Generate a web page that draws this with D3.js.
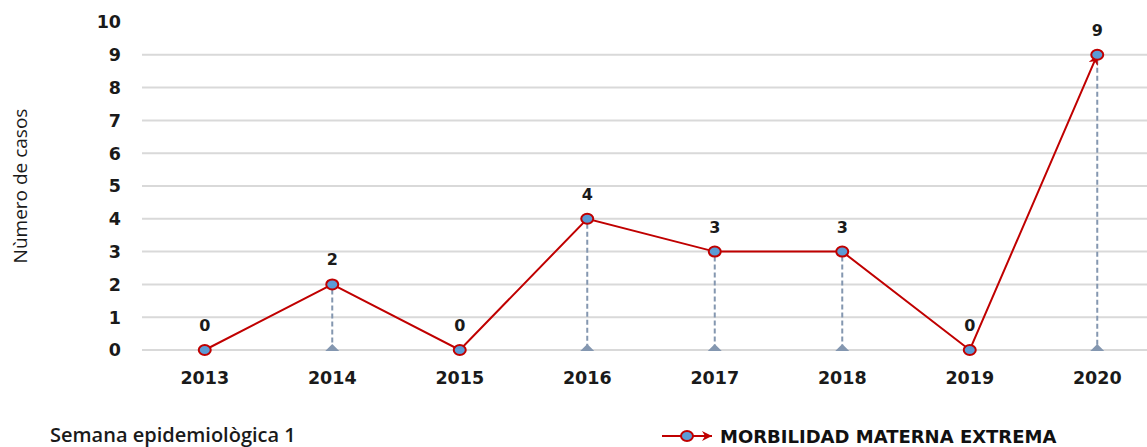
<!DOCTYPE html>
<html>
<head>
<meta charset="utf-8">
<script src="https://cdn.jsdelivr.net/npm/d3@7"></script>
<style>
  body { margin: 0; background: #fff; overflow: hidden; }
  svg { display: block; }
  .tick-lbl { font-family: "DejaVu Sans", Verdana, sans-serif; font-weight: bold; font-size: 17.5px; fill: #1a1a1a; }
</style>
</head>
<body>
<svg id="main-svg" width="1147" height="447"></svg>
<script>
// data
let years = ["2013", "2014", "2015", "2016", "2017", "2018", "2019", "2020"];
let cases = [0, 2, 0, 4, 3, 3, 0, 9];
let yTicks = [0, 1, 2, 3, 4, 5, 6, 7, 8, 9, 10];
let seriesName = "MORBILIDAD MATERNA EXTREMA";

let red = "#c00000";
let dropColor = "#8497b0";

let svg = d3.select("#main-svg");
let GridLayer = svg.append('g');
let DropLayer = svg.append('g');
let LineLayer = svg.append('g');
let LabelLayer = svg.append('g');

let x = d3.scaleBand().domain(years).range([141, 1161]);
let y = d3.scaleLinear().domain([0, 10]).range([350, 22]);
let cx = function (d) { return x(d) + x.bandwidth() / 2; };

// arrow marker for end of line
let defs = svg.append("defs");
defs.append("marker")
    .attr("id", "arrow")
    .attr("viewBox", "0 0 10 10")
    .attr("refX", 10).attr("refY", 5)
    .attr("markerWidth", 5).attr("markerHeight", 5)
    .attr("orient", "auto")
    .append("path")
    .attr("d", "M0,0 L10,5 L0,10 L3,5 Z")
    .attr("fill", red);

// gridlines (0..9)
GridLayer.selectAll("line")
    .data(yTicks.filter(function (t) { return t < 10; }))
    .enter().append("line")
    .attr("x1", 142).attr("x2", 1147)
    .attr("y1", function (d) { return y(d); })
    .attr("y2", function (d) { return y(d); })
    .attr("stroke", "#d9d9d9")
    .attr("stroke-width", 2);

// y tick labels
GridLayer.selectAll("text.y")
    .data(yTicks)
    .enter().append("text")
    .attr("class", "tick-lbl")
    .attr("x", 121)
    .attr("y", function (d) { return y(d); })
    .attr("dy", "0.36em")
    .attr("text-anchor", "end")
    .text(function (d) { return d; });

// x tick labels
GridLayer.selectAll("text.x")
    .data(years)
    .enter().append("text")
    .attr("class", "tick-lbl")
    .attr("x", cx)
    .attr("y", 384)
    .attr("text-anchor", "middle")
    .text(function (d) { return d; });

// drop lines with triangles
let pts = years.map(function (d, i) { return { year: d, v: cases[i] }; });
let drops = pts.filter(function (p) { return p.v > 0; });

DropLayer.selectAll("line")
    .data(drops)
    .enter().append("line")
    .attr("x1", function (d) { return cx(d.year); })
    .attr("x2", function (d) { return cx(d.year); })
    .attr("y1", function (d) { return y(d.v) + 5; })
    .attr("y2", y(0) - 4)
    .attr("stroke", dropColor)
    .attr("stroke-width", 2)
    .attr("stroke-dasharray", "5,3");

DropLayer.selectAll("path")
    .data(drops)
    .enter().append("path")
    .attr("d", function (d) {
        let px = cx(d.year), py = y(0) + 1;
        return "M" + (px - 7) + "," + py + " L" + px + "," + (py - 7) + " L" + (px + 7) + "," + py + " Z";
    })
    .attr("fill", dropColor);

// series line
let line = d3.line()
    .x(function (d) { return cx(d.year); })
    .y(function (d) { return y(d.v); });

LineLayer.append("path")
    .datum(pts)
    .attr("d", line)
    .attr("fill", "none")
    .attr("stroke", red)
    .attr("stroke-width", 2)
    .attr("marker-end", "url(#arrow)");

LineLayer.selectAll("ellipse")
    .data(pts)
    .enter().append("ellipse")
    .attr("cx", function (d) { return cx(d.year); })
    .attr("cy", function (d) { return y(d.v); })
    .attr("rx", 6).attr("ry", 5)
    .attr("fill", "#5b9bd5")
    .attr("stroke", red)
    .attr("stroke-width", 2);

// data labels
LabelLayer.selectAll("text")
    .data(pts)
    .enter().append("text")
    .attr("class", "tick-lbl")
    .attr("x", function (d) { return cx(d.year); })
    .attr("y", function (d) { return y(d.v) - 19; })
    .attr("text-anchor", "middle")
    .style("font-size", "16px")
    .text(function (d) { return d.v; });

// axis title
svg.append("text")
    .attr("transform", "rotate(-90)")
    .attr("x", -186)
    .attr("y", 27)
    .attr("text-anchor", "middle")
    .style("font-family", "'Open Sans', sans-serif")
    .style("font-size", "19px")
    .style("fill", "#1a1a1a")
    .text("Nùmero de casos");

// footer
svg.append("text")
    .attr("x", 50)
    .attr("y", 442)
    .style("font-family", "'Open Sans', sans-serif")
    .style("font-weight", "600")
    .style("font-size", "20px")
    .style("fill", "#1a1a1a")
    .text("Semana epidemiològica 1");

// legend
let lg = svg.append("g").attr("transform", "translate(662,436)");
lg.append("line")
    .attr("x1", 0).attr("x2", 50)
    .attr("y1", 0).attr("y2", 0)
    .attr("stroke", red).attr("stroke-width", 2)
    .attr("marker-end", "url(#arrow)");
lg.append("ellipse")
    .attr("cx", 25).attr("cy", 0)
    .attr("rx", 6).attr("ry", 5)
    .attr("fill", "#5b9bd5")
    .attr("stroke", red).attr("stroke-width", 2);
lg.append("text")
    .attr("class", "tick-lbl")
    .attr("x", 58)
    .attr("y", 7)
    .style("font-size", "18px")
    .style("fill", "#111")
    .text(seriesName);
</script>
</body>
</html>
